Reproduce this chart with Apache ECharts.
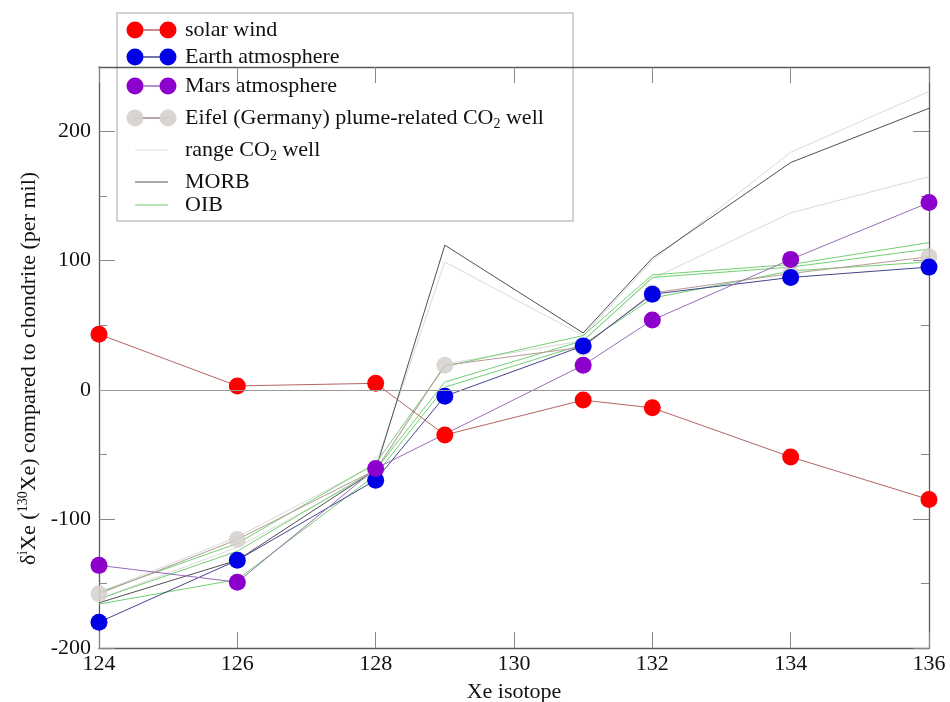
<!DOCTYPE html>
<html>
<head>
<meta charset="utf-8">
<script src="https://cdn.jsdelivr.net/npm/echarts@6/dist/echarts.min.js"></script>
<style>
  html, body { margin: 0; padding: 0; background: #fff; }
  #chart { width: 950px; height: 702px; }
</style>
</head>
<body>
<div id="chart"></div>
<script>
// Xe isotope values (per mil deviation from chondrite, normalised to 130Xe)
const isotopes = [124, 126, 128, 129, 131, 132, 134, 136];

const solarWind = [43, 3, 5, -35, -8, -14, -52, -85];
const earthAtm  = [-180, -132, -70, -5, 34, 74, 87, 95];
const marsAtm   = [-136, -149, -61, null, 19, 54, 101, 145];
const eifelWell = [-158, -116, -62, 19, 33, 75, 90, 103];

const rangeHigh = [-157, -114, -58, 99, 42, 100, 184, 231];
const rangeLow  = [-162, -122, -64, 20, 38, 86, 137, 165];

const morb = [-165, -132, -62, 112, 44, 102, 176, 218];
const oib1 = [-157, -119, -57, 18, 42, 89, 97, 114];
const oib2 = [-162, -125, -62, 6, 38, 87, 95, 109];
const oib3 = [-166, -147, -66, 2, 35, 71, 92, 99];

const xTicks = { min: 124, max: 136, interval: 2 };
const yMajorTicks = [-200, -100, 0, 100, 200];
const yMinorTicks = [-150, -50, 50, 150];

const FONT = 'Liberation Serif';
const pairs = vals => isotopes.map((x, i) => [x, vals[i]]).filter(p => p[1] !== null);

function lineOnly(name, vals, color, width) {
  return {
    name, type: 'line', data: pairs(vals), symbol: 'none',
    lineStyle: { color, width: width || 1 }, silent: true
  };
}
function withMarkers(name, vals, lineColor, dotColor) {
  return {
    name, type: 'line', data: pairs(vals), symbol: 'circle', symbolSize: 17,
    showSymbol: true, connectNulls: true,
    lineStyle: { color: lineColor, width: 1 },
    itemStyle: { color: dotColor }, silent: true
  };
}

const frameLine = { show: true, onZero: false, lineStyle: { color: '#5a5a5a', width: 1.3 } };
const tickStyle = { color: '#888', width: 1 };

const option = {
  animation: false,
  backgroundColor: '#ffffff',
  textStyle: { fontFamily: FONT },
  grid: { left: 99, right: 21, top: 67, bottom: 54, outerBoundsMode: 'none', containLabel: false },
  xAxis: [
    {
      type: 'value', position: 'bottom', ...xTicks,
      axisLine: frameLine,
      axisTick: { inside: true, length: 16, lineStyle: tickStyle },
      axisLabel: { fontSize: 22, color: '#111', margin: 5, fontFamily: FONT },
      splitLine: { show: false },
      name: 'Xe isotope', nameLocation: 'middle', nameGap: 33,
      nameTextStyle: { fontSize: 22, color: '#111', fontFamily: FONT }
    },
    {
      type: 'value', position: 'top', ...xTicks,
      axisLine: frameLine,
      axisTick: { inside: true, length: 16, lineStyle: tickStyle },
      axisLabel: { show: false }, splitLine: { show: false }
    }
  ],
  yAxis: [
    {
      type: 'value', position: 'left', min: -200, max: 250, interval: 100,
      axisLine: frameLine,
      axisTick: { inside: true, length: 16, customValues: yMajorTicks, lineStyle: tickStyle },
      axisLabel: { fontSize: 22, color: '#111', margin: 8, fontFamily: FONT, customValues: yMajorTicks },
      splitLine: { show: false },
      name: 'δ{sup|i}Xe ({sup|130}Xe) compared to chondrite (per mil)',
      nameLocation: 'middle', nameRotate: 90, nameGap: 58,
      nameTextStyle: {
        fontSize: 22, color: '#111', fontFamily: FONT, padding: [0, 22, 0, 0],
        rich: { sup: { fontSize: 14, fontFamily: FONT, color: '#111', padding: [0, 0, 10, 0] } }
      }
    },
    {
      type: 'value', position: 'left', min: -200, max: 250,
      axisLine: { show: false, onZero: false },
      axisTick: { inside: true, length: 8, customValues: yMinorTicks, lineStyle: tickStyle },
      axisLabel: { show: false }, splitLine: { show: false }
    },
    {
      type: 'value', position: 'right', min: -200, max: 250,
      axisLine: frameLine,
      axisTick: { inside: true, length: 16, customValues: yMajorTicks, lineStyle: tickStyle },
      axisLabel: { show: false }, splitLine: { show: false }
    },
    {
      type: 'value', position: 'right', min: -200, max: 250,
      axisLine: { show: false, onZero: false },
      axisTick: { inside: true, length: 8, customValues: yMinorTicks, lineStyle: tickStyle },
      axisLabel: { show: false }, splitLine: { show: false }
    }
  ],
  series: [
    Object.assign(lineOnly('range CO2 well (upper)', rangeHigh, '#dadada'), {
      markLine: {
        silent: true, symbol: 'none', label: { show: false },
        lineStyle: { color: '#9a9a9a', type: 'solid', width: 1 },
        data: [{ yAxis: 0 }]
      }
    }),
    lineOnly('range CO2 well (lower)', rangeLow, '#dadada'),
    lineOnly('MORB', morb, '#505050'),
    lineOnly('OIB a', oib1, '#72d072'),
    lineOnly('OIB b', oib2, '#72d072'),
    lineOnly('OIB c', oib3, '#72d072'),
    withMarkers('Eifel (Germany) plume-related CO2 well', eifelWell, '#b89a9a', 'rgba(214,207,205,0.85)'),
    withMarkers('Earth atmosphere', earthAtm, '#45458f', '#0000e6'),
    withMarkers('Mars atmosphere', marsAtm, '#9a6cb8', '#8d00cc'),
    withMarkers('solar wind', solarWind, '#b86464', '#ff0000')
  ],
  graphic: []
};

// Legend box drawn on top of the frame
const legendRows = [
  { y: 30, text: 'solar wind', kind: 'dots', line: '#b86464', dot: '#ff0000' },
  { y: 57, text: 'Earth atmosphere', kind: 'dots', line: '#45458f', dot: '#0000e6' },
  { y: 86, text: 'Mars atmosphere', kind: 'dots', line: '#9a6cb8', dot: '#8d00cc' },
  { y: 118, text: 'Eifel (Germany) plume-related CO{sub|2} well', kind: 'dots', line: '#a08888', dot: 'rgba(214,207,205,0.9)' },
  { y: 150, text: 'range CO{sub|2} well', kind: 'line', line: '#e0e0e0' },
  { y: 182, text: 'MORB', kind: 'line', line: '#505050' },
  { y: 205, text: 'OIB', kind: 'line', line: '#72d072' }
];
const legendChildren = [{
  type: 'rect', shape: { x: 117, y: 13, width: 456, height: 208 },
  style: { fill: '#ffffff', stroke: '#c4c4c4', lineWidth: 1.5 }
}];
legendRows.forEach(r => {
  legendChildren.push({
    type: 'line', shape: { x1: 135, y1: r.y, x2: 168, y2: r.y },
    style: { stroke: r.line, lineWidth: 1 }
  });
  if (r.kind === 'dots') {
    [135, 168].forEach(cx => legendChildren.push({
      type: 'circle', shape: { cx, cy: r.y, r: 8.5 }, style: { fill: r.dot }
    }));
    legendChildren.push({
      type: 'line', shape: { x1: 143, y1: r.y, x2: 160, y2: r.y },
      style: { stroke: r.line, lineWidth: 1 }
    });
  }
  legendChildren.push({
    type: 'text', x: 185, y: r.y,
    style: {
      text: r.text, fill: '#111', fontSize: 22, fontFamily: FONT,
      verticalAlign: 'middle', align: 'left',
      rich: { sub: { fontSize: 14, fontFamily: FONT, fill: '#111', padding: [12, 0, 0, 0] } }
    }
  });
});
option.graphic.push({ type: 'group', z: 100, children: legendChildren });

const chart = echarts.init(document.getElementById('chart'), null, { renderer: 'canvas' });
chart.setOption(option);
</script>
</body>
</html>
